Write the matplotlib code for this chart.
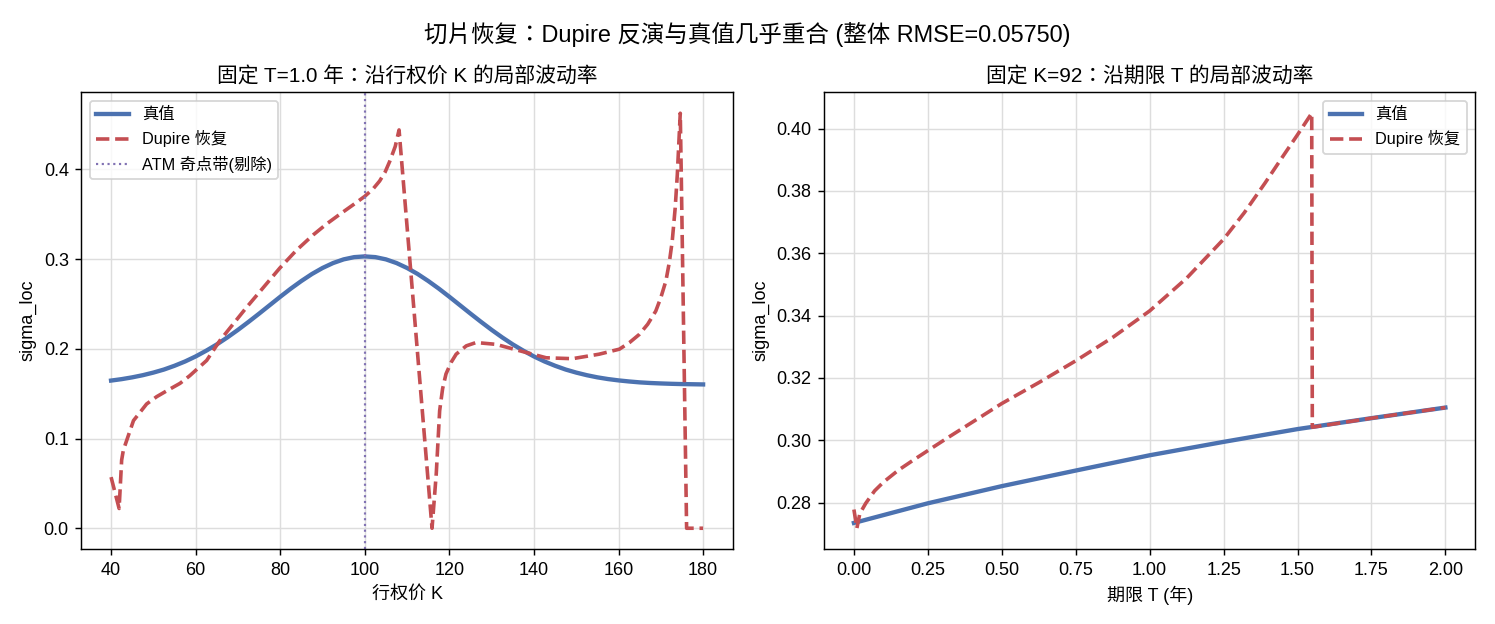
import matplotlib
matplotlib.use("Agg")
import matplotlib.pyplot as plt

plt.rcParams['font.family'] = ['Liberation Sans', 'Noto Sans CJK SC', 'DejaVu Sans']
plt.rcParams['axes.unicode_minus'] = False
title_family = ['Liberation Sans', 'Noto Sans CJK TC', 'DejaVu Sans']

# --- left panel: fixed T = 1.0, along strike K ---
k_true = [40, 42.5, 45, 47.5, 50, 52.5, 55, 57.5, 60, 62.5, 65, 67.5, 70, 72.5, 75,
          77.5, 80, 82.5, 85, 87.5, 90, 92.5, 95, 97.5, 100, 102.5, 105, 107.5, 110,
          112.5, 115, 117.5, 120, 122.5, 125, 127.5, 130, 132.5, 135, 137.5, 140,
          142.5, 145, 147.5, 150, 152.5, 155, 157.5, 160, 162.5, 165, 167.5, 170,
          172.5, 175, 177.5, 180]
sig_true_k = [0.1646, 0.1662, 0.1682, 0.1706, 0.1735, 0.1769, 0.1811, 0.1859, 0.1915,
              0.1979, 0.2049, 0.2127, 0.2211, 0.2300, 0.2392, 0.2486, 0.2580, 0.2671,
              0.2756, 0.2834, 0.2901, 0.2956, 0.2997, 0.3022, 0.3030, 0.3022, 0.2997,
              0.2956, 0.2901, 0.2834, 0.2756, 0.2671, 0.2580, 0.2486, 0.2392, 0.2300,
              0.2211, 0.2127, 0.2049, 0.1979, 0.1915, 0.1859, 0.1811, 0.1769, 0.1735,
              0.1706, 0.1682, 0.1663, 0.1648, 0.1636, 0.1626, 0.1619, 0.1614, 0.1610,
              0.1607, 0.1605, 0.1603]

k_dup = [40, 41.9, 42.5, 42.9, 43.7, 45.3, 48.4, 50.8, 53.1, 56.3, 58.6, 62.6, 65.7,
         72, 79.9, 83.8, 87.8, 91, 94.1, 97.3, 100, 102, 103.5, 104.8, 105.9, 107.2,
         108.1, 115.9, 116.9, 117.7, 118.4, 119.2, 120.4, 121.6, 124, 126.3, 131,
         136.5, 142.9, 149.1, 155.4, 160.2, 162.6, 164.9, 166.9, 168.8, 170, 171.2,
         172, 172.7, 173.4, 173.9, 174.6, 174.85, 176.1, 180]
sig_dup_k = [0.057, 0.022, 0.076, 0.087, 0.098, 0.120, 0.1385, 0.1467, 0.153, 0.1615,
             0.170, 0.187, 0.209, 0.246, 0.290, 0.3097, 0.327, 0.3393, 0.350, 0.3607,
             0.370, 0.3785, 0.387, 0.397, 0.409, 0.4256, 0.444, 0.0, 0.061, 0.131,
             0.1556, 0.172, 0.1848, 0.194, 0.2033, 0.207, 0.205, 0.198, 0.190, 0.189,
             0.194, 0.1996, 0.207, 0.216, 0.2274, 0.242, 0.257, 0.2756, 0.296, 0.320,
             0.357, 0.394, 0.4626, 0.390, 0.0, 0.0]

atm_k = 100

# --- right panel: fixed K = 92, along maturity T ---
t_true = [0.0, 0.25, 0.5, 0.75, 1.0, 1.25, 1.5, 1.75, 2.0]
sig_true_t = [0.2735, 0.2798, 0.2853, 0.2903, 0.2952, 0.2995, 0.3036, 0.3071, 0.3105]

t_dup = [0.0, 0.01, 0.02, 0.04, 0.07, 0.10, 0.15, 0.20, 0.25, 0.32, 0.40, 0.50,
         0.625, 0.75, 0.875, 1.0, 1.125, 1.25, 1.32, 1.39, 1.45, 1.50, 1.548, 1.550,
         1.75, 2.0]
sig_dup_t = [0.2778, 0.2718, 0.2765, 0.2798, 0.2838, 0.2866, 0.2904, 0.2936, 0.2967,
             0.3010, 0.3058, 0.3118, 0.3185, 0.3255, 0.3330, 0.3415, 0.3520, 0.3645,
             0.3730, 0.3825, 0.3910, 0.3980, 0.4049, 0.3042, 0.3071, 0.3105]

blue = '#4C72B0'
red = '#C44E52'
purple = '#8172B3'

fig = plt.figure(figsize=(11.5, 4.8), dpi=130)
ax1 = fig.add_axes([0.0545, 0.1202, 0.4356, 0.7316])
ax2 = fig.add_axes([0.5514, 0.1202, 0.4352, 0.7316])

ax1.plot(k_true, sig_true_k, color=blue, lw=2.4, label='真值')
ax1.plot(k_dup, sig_dup_k, color=red, lw=2.0, ls='--', label='Dupire 恢复')
ax1.axvline(atm_k, color=purple, lw=1.2, ls=':', label='ATM 奇点带(剔除)')
ax1.set_title('固定 T=1.0 年：沿行权价 K 的局部波动率', fontsize=11.5, family=title_family)
ax1.set_xlabel('行权价 K', fontsize=10)
ax1.set_ylabel('sigma_loc', fontsize=10)
ax1.set_xticks([40, 60, 80, 100, 120, 140, 160, 180])
ax1.set_yticks([0.0, 0.1, 0.2, 0.3, 0.4])
ax1.legend(loc='upper left', fontsize=9)

ax2.plot(t_true, sig_true_t, color=blue, lw=2.4, label='真值')
ax2.plot(t_dup, sig_dup_t, color=red, lw=2.0, ls='--', label='Dupire 恢复')
ax2.set_title('固定 K=92：沿期限 T 的局部波动率', fontsize=11.5, family=title_family)
ax2.set_xlabel('期限 T (年)', fontsize=10)
ax2.set_ylabel('sigma_loc', fontsize=10)
ax2.set_xticks([0.0, 0.25, 0.5, 0.75, 1.0, 1.25, 1.5, 1.75, 2.0])
ax2.legend(loc='upper right', fontsize=9)

for ax in (ax1, ax2):
    ax.grid(True, color='#dddddd', lw=0.8)
    ax.set_axisbelow(True)
    ax.tick_params(labelsize=10)

fig.suptitle('切片恢复：Dupire 反演与真值几乎重合 (整体 RMSE=0.05750)', fontsize=13,
             y=0.965, family=title_family)

fig.savefig('out.png', dpi=130)
